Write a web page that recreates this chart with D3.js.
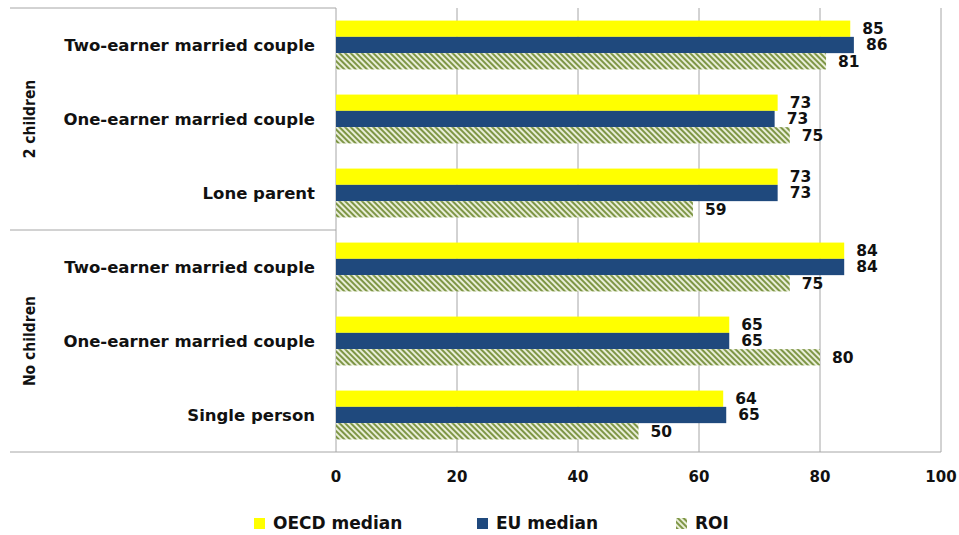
<!DOCTYPE html>
<html>
<head>
<meta charset="utf-8">
<script src="https://cdn.jsdelivr.net/npm/d3@7"></script>
<style>
  body { margin: 0; background: #fff; }
  text { font-family: "DejaVu Sans", sans-serif; font-weight: 700; fill: #111; }
  text.group { font-family: "DejaVu Sans Condensed", "DejaVu Sans", sans-serif; font-stretch: condensed; }
</style>
</head>
<body>
<script>
//chart data
var categories = ["Two-earner married couple", "One-earner married couple", "Lone parent",
                  "Two-earner married couple", "One-earner married couple", "Single person"];
var groups = ["2 children", "No children"];
var seriesNames = ["OECD median", "EU median", "ROI"];
var oecd = [85, 73, 73, 84, 65, 64];
var eu = [85.6, 72.5, 73, 84, 65, 64.5];
var roi = [81, 75, 59, 75, 80, 50];
var ticks = [0, 20, 40, 60, 80, 100];

window.onload = drawChart();

function drawChart() {
    var width = 959,
        height = 535;

    var svg = d3.select("body")
        .append("svg")
        .attr("width", width)
        .attr("height", height);

    //hatch pattern for ROI
    var pat = svg.append("defs").append("pattern")
        .attr("id", "hatch")
        .attr("patternUnits", "userSpaceOnUse")
        .attr("width", 4)
        .attr("height", 4)
        .attr("patternTransform", "rotate(-45)");
    pat.append("rect").attr("width", 4).attr("height", 4).attr("fill", "#e9eed8");
    pat.append("rect").attr("width", 2).attr("height", 4).attr("fill", "#7e9646");

    var colors = ["#ffff00", "#1f497d", "url(#hatch)"];
    var series = [oecd, eu, roi];

    var left = 336, right = 941, top = 8, bottom = 452;

    var x = d3.scaleLinear().domain([0, 100]).range([left, right]);

    var y = d3.scaleBand()
        .domain(d3.range(categories.length))
        .range([top, bottom])
        .paddingInner(0.34)
        .paddingOuter(0.17);

    var ySub = d3.scaleBand()
        .domain(d3.range(seriesNames.length))
        .range([0, y.bandwidth()]);

    //gridlines
    svg.append("g").selectAll("line")
        .data(ticks)
        .enter()
        .append("line")
        .attr("x1", function(d) { return x(d); })
        .attr("x2", function(d) { return x(d); })
        .attr("y1", top)
        .attr("y2", bottom)
        .attr("stroke", "#a6a6a6")
        .attr("stroke-width", 1);

    //bottom line and left panel separators
    svg.append("line")
        .attr("x1", 10).attr("x2", right)
        .attr("y1", bottom).attr("y2", bottom)
        .attr("stroke", "#a6a6a6");
    [top, (top + bottom) / 2].forEach(function(yy) {
        svg.append("line")
            .attr("x1", 10).attr("x2", left)
            .attr("y1", yy).attr("y2", yy)
            .attr("stroke", "#a6a6a6");
    });

    //bars
    var rows = svg.append("g").selectAll("g")
        .data(categories)
        .enter()
        .append("g")
        .attr("transform", function(d, i) { return "translate(0," + y(i) + ")"; });

    series.forEach(function(vals, s) {
        rows.append("rect")
            .attr("x", x(0))
            .attr("y", ySub(s))
            .attr("width", function(d, i) { return x(vals[i]) - x(0); })
            .attr("height", ySub.bandwidth())
            .attr("fill", colors[s]);

        rows.append("text")
            .attr("x", function(d, i) { return x(vals[i]) + 12; })
            .attr("y", ySub(s) + ySub.bandwidth() / 2)
            .attr("dy", "0.35em")
            .attr("font-size", 15.5)
            .text(function(d, i) { return Math.round(vals[i]); });
    });

    //category labels
    svg.append("g").selectAll("text")
        .data(categories)
        .enter()
        .append("text")
        .attr("x", 315)
        .attr("y", function(d, i) { return y(i) + y.bandwidth() / 2; })
        .attr("dy", "0.35em")
        .attr("text-anchor", "end")
        .attr("font-size", 16.5)
        .text(function(d) { return d; });

    //group labels
    groups.forEach(function(g, gi) {
        var y0 = top + (bottom - top) / groups.length * gi,
            y1 = top + (bottom - top) / groups.length * (gi + 1);
        svg.append("text")
            .attr("class", "group")
            .attr("transform", "translate(30," + ((y0 + y1) / 2) + ") rotate(-90)")
            .attr("dy", "0.35em")
            .attr("text-anchor", "middle")
            .attr("font-size", 15.5)
            .text(g);
    });

    //x tick labels
    svg.append("g").selectAll("text")
        .data(ticks)
        .enter()
        .append("text")
        .attr("x", function(d) { return x(d); })
        .attr("y", 477)
        .attr("dy", "0.35em")
        .attr("text-anchor", "middle")
        .attr("font-size", 15)
        .text(function(d) { return d; });

    //legend
    var legX = [254, 477, 676];
    seriesNames.forEach(function(name, s) {
        svg.append("rect")
            .attr("x", legX[s])
            .attr("y", 518)
            .attr("width", 11)
            .attr("height", 11)
            .attr("fill", colors[s]);
        svg.append("text")
            .attr("x", legX[s] + 19)
            .attr("y", 523)
            .attr("dy", "0.35em")
            .attr("font-size", 17)
            .text(name);
    });
}
</script>
</body>
</html>
